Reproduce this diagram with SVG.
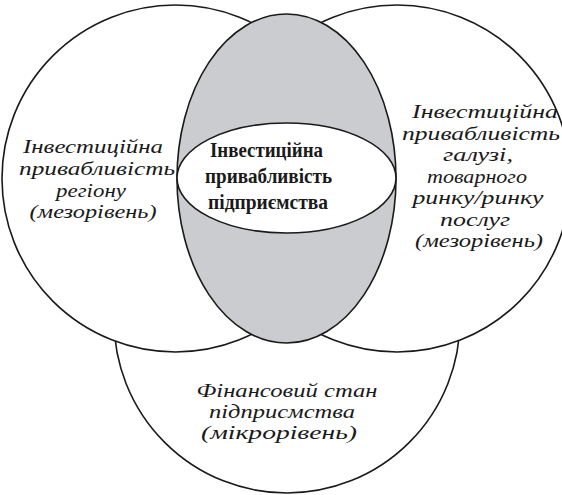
<svg xmlns="http://www.w3.org/2000/svg" width="562" height="495" viewBox="0 0 562 495">
<style>
.c{fill:#fff;stroke:#1a1a1a;stroke-width:1.6}
.g{fill:#cbccd0;stroke:#1a1a1a;stroke-width:1.6}
.t{font-family:"Liberation Serif","Times New Roman",serif;font-style:italic;font-size:18.5px;fill:#1a1a1a;text-anchor:middle}
.b{font-family:"Liberation Serif","Times New Roman",serif;font-weight:bold;font-size:21.5px;fill:#1a1a1a;text-anchor:middle}
</style>
<rect width="562" height="495" fill="#fff"/>
<g id="micro">
<circle class="c" cx="287" cy="320" r="173"/>
</g>
<g id="region">
<circle class="c" cx="175.5" cy="178.5" r="173.5"/>
</g>
<g id="industry">
<circle class="c" cx="397" cy="178.5" r="173.5"/>
</g>
<g id="core">
<ellipse class="g" cx="286.5" cy="178.5" rx="109.5" ry="164.5"/>
</g>
<g id="enterprise">
<ellipse class="c" cx="286.5" cy="178" rx="109.5" ry="55"/>
</g>
<g id="connectors"></g>
<g id="labels">
<text class="t" x="93" y="153" textLength="140" lengthAdjust="spacingAndGlyphs">Інвестиційна</text>
<text class="t" x="97" y="175" textLength="156" lengthAdjust="spacingAndGlyphs">привабливість</text>
<text class="t" x="91" y="196.5" textLength="70" lengthAdjust="spacingAndGlyphs">регіону</text>
<text class="t" x="93" y="218" textLength="127" lengthAdjust="spacingAndGlyphs">(мезорівень)</text>
<text class="b" x="266.5" y="157" textLength="113" lengthAdjust="spacingAndGlyphs">Інвестиційна</text>
<text class="b" x="268.5" y="183" textLength="127" lengthAdjust="spacingAndGlyphs">привабливість</text>
<text class="b" x="268" y="209" textLength="120" lengthAdjust="spacingAndGlyphs">підприємства</text>
<text class="t" x="485" y="118" textLength="146" lengthAdjust="spacingAndGlyphs">Інвестиційна</text>
<text class="t" x="481" y="139.5" textLength="158" lengthAdjust="spacingAndGlyphs">привабливість</text>
<text class="t" x="478" y="161" textLength="70" lengthAdjust="spacingAndGlyphs">галузі,</text>
<text class="t" x="477" y="182.5" textLength="100" lengthAdjust="spacingAndGlyphs">товарного</text>
<text class="t" x="478" y="204" textLength="131" lengthAdjust="spacingAndGlyphs">ринку/ринку</text>
<text class="t" x="475" y="225.5" textLength="70" lengthAdjust="spacingAndGlyphs">послуг</text>
<text class="t" x="479" y="247" textLength="128" lengthAdjust="spacingAndGlyphs">(мезорівень)</text>
<text class="t" x="287" y="397" textLength="181" lengthAdjust="spacingAndGlyphs">Фінансовий стан</text>
<text class="t" x="282" y="418" textLength="146" lengthAdjust="spacingAndGlyphs">підприсмства</text>
<text class="t" x="279" y="439" textLength="156" lengthAdjust="spacingAndGlyphs">(мікрорівень)</text>
</g>
</svg>
